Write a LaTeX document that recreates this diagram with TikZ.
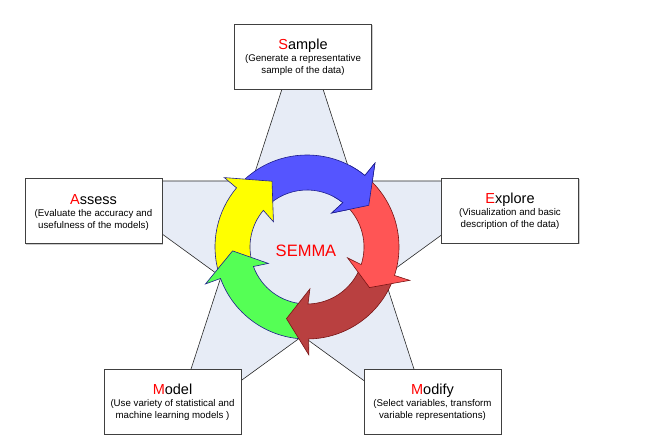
\documentclass[tikz,border=0pt]{standalone}
\usepackage{fontspec}
\setmainfont{Liberation Sans}
\usetikzlibrary{shadows}

\definecolor{starfill}{RGB}{231,236,246}
\definecolor{starline}{RGB}{40,40,40}
\definecolor{boxline}{RGB}{64,64,64}
\definecolor{initial}{RGB}{255,0,0}
\definecolor{arrblue}{RGB}{85,85,255}
\definecolor{arrred}{RGB}{255,85,85}
\definecolor{arrbrown}{RGB}{185,64,64}
\definecolor{arrgreen}{RGB}{85,255,85}
\definecolor{arryellow}{RGB}{255,255,0}
\definecolor{edgenavy}{RGB}{30,30,140}
\definecolor{edgedark}{RGB}{120,20,20}

% one curved block arrow of the cycle: fill, outline, tail angle, head base angle, tip angle
\newcommand\cyclearrow[5]{%
  \path[fill=#1, draw=#2, line width=0.6pt, line join=miter]
    (#3:92pt) arc[start angle=#3, end angle=#4, radius=92pt]
    -- (#4:108pt) -- (#5:74.5pt) -- ({#4+3}:42pt) -- (#4:57pt)
    arc[start angle=#4, end angle=#3, radius=57pt] -- cycle;}

% a stage box with its coloured initial, title and two-line description
\newcommand\semmastage[7]{%
  \node[stepbox] (#1) at (#2,#3) {};
  \node[titletext, anchor=base] (#1-title) at ([yshift=-26pt]#1.north) {\textcolor{initial}{#4}#5};
  \node[desctext] (#1-text) at ([yshift=-41.5pt]#1.north) {#6\\#7};}

\begin{document}
\begin{tikzpicture}[x=1pt,y=1pt,
  stepbox/.style={draw=boxline, line width=0.9pt, fill=white,
    minimum width=137pt, minimum height=65pt, inner sep=0pt,
    drop shadow={shadow xshift=1.2pt, shadow yshift=-1.2pt, fill=black!40, opacity=0.5}},
  titletext/.style={inner sep=0pt, font=\fontsize{14.5}{17}\selectfont},
  desctext/.style={inner sep=0pt, align=center, font=\fontsize{9.7}{12}\selectfont},
  starshape/.style={fill=starfill, draw=starline, line width=0.6pt, line join=miter}]

\useasboundingbox (0,0) rectangle (646,439);

% background pentagram
\begin{scope}[shift={(302.5,188.7)}]
  \path[starshape] (90:224.3pt) -- (126:85.7pt) -- (162:224.3pt) -- (198:85.7pt)
    -- (234:224.3pt) -- (270:85.7pt) -- (306:224.3pt) -- (342:85.7pt)
    -- (18:224.3pt) -- (54:85.7pt) -- cycle;
\end{scope}

% the five stages
\semmastage{sample}{303}{382.5}{S}{ample}{(Generate a representative}{sample of the data)}
\semmastage{explore}{510}{228.5}{E}{xplore}{(Visualization and basic}{description of the data)}
\semmastage{modify}{432.5}{37.5}{M}{odify}{(Select variables, transform}{variable representations)}
\semmastage{model}{172.5}{37.5}{M}{odel}{(Use variety of statistical and}{machine learning models )}
\semmastage{assess}{93.5}{228}{A}{ssess}{(Evaluate the accuracy and}{usefulness of the models)}

% the cycle of arrows, each head laid over the next tail
\begin{scope}[shift={(307,192)}]
  \cyclearrow{arrblue}{edgenavy}{136}{51}{34}
  \cyclearrow{arryellow}{edgenavy}{196}{140}{118}
  \cyclearrow{arrgreen}{edgenavy}{-93}{-160}{-177}
  \cyclearrow{arrbrown}{edgedark}{-22}{-89}{-106}
  \cyclearrow{arrred}{edgedark}{47}{-18}{-33}
  \begin{scope}
    \clip (0,0) -- (18:125pt) arc[start angle=18, end angle=62, radius=125pt] -- cycle;
    \cyclearrow{arrblue}{edgenavy}{136}{51}{34}
  \end{scope}
\end{scope}

\node[text=initial, font=\fontsize{16.5}{19}\selectfont, inner sep=0pt] (semma) at (306,188) {SEMMA};
\end{tikzpicture}
\end{document}
